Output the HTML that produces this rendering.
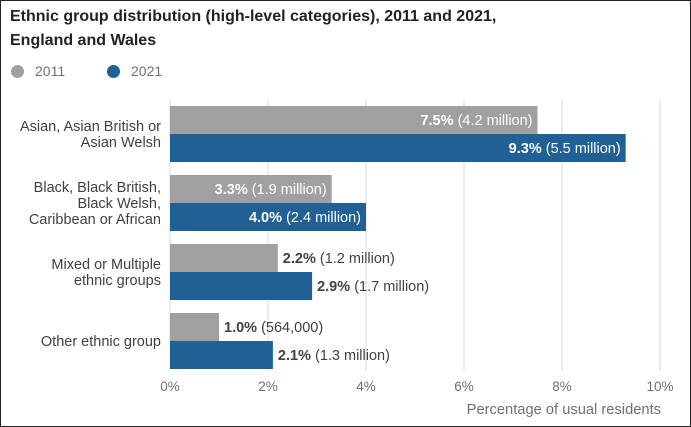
<!DOCTYPE html>
<html><head><meta charset="utf-8"><style>
html,body{margin:0;padding:0;background:#fff}
#wrap{position:relative;width:689px;height:425px;border:1px solid #222;overflow:hidden;font-family:"Liberation Sans",sans-serif}
#title{position:absolute;left:9px;top:4px;font-size:16px;font-weight:bold;color:#222;line-height:24px}
.leg{position:absolute;top:62px;font-size:14px;color:#707070;display:flex;align-items:center}
.dot{width:13px;height:13px;border-radius:50%;margin-right:11px;display:inline-block}
svg{position:absolute;left:0;top:0}
</style></head><body>
<div id="wrap">
<div id="title">Ethnic group distribution (high-level categories), 2011 and 2021,<br>England and Wales</div>
<div class="leg" style="left:10px"><span class="dot" style="background:#a0a0a0"></span>2011</div>
<div class="leg" style="left:106px"><span class="dot" style="background:#206095"></span>2021</div>
<svg id="chart" width="689" height="425"></svg>
</div>
<script>
const categories=[["Asian, Asian British or","Asian Welsh"],["Black, Black British,","Black Welsh,","Caribbean or African"],["Mixed or Multiple","ethnic groups"],["Other ethnic group"]];
const values2011=[7.5,3.3,2.2,1.0];
const values2021=[9.3,4.0,2.9,2.1];
const counts2011=["(4.2 million)","(1.9 million)","(1.2 million)","(564,000)"];
const counts2021=["(5.5 million)","(2.4 million)","(1.7 million)","(1.3 million)"];
const ticks=[0,2,4,6,8,10];
const svg=document.getElementById('chart');const NS="http://www.w3.org/2000/svg";
const x=v=>169+v*49;
const groupY=i=>105+i*69;
function mk(t,a,p){const e=document.createElementNS(NS,t);for(const k in a)e.setAttribute(k,a[k]);(p||svg).appendChild(e);return e;}
ticks.forEach(t=>{
 const l=mk('line',{x1:x(t),x2:x(t),y1:98,y2:370,stroke:'#d9d9d9','stroke-width':1});
 
 
 const tx=mk('text',{x:x(t),y:390,'text-anchor':'middle','font-size':13.5,fill:'#707070'});
 tx.textContent=t+'%';
 
 
});
const at=mk('text',{x:660,y:413,'text-anchor':'end','font-size':14.7,fill:'#707070'});
at.textContent='Percentage of usual residents';


function bar(i,v,cnt,y,col,yr){
 const r=mk('rect',{x:x(0),y:y,width:x(v)-x(0),height:28,fill:col});
 
 
 const inside=v>=3;
 const t=mk('text',{x:inside?x(v)-5:x(v)+5,y:y+19,'text-anchor':inside?'end':'start','font-size':14.5,fill:inside?'#fff':'#414042'});
 const b=mk('tspan',{'font-weight':'bold'},t);b.textContent=v.toFixed(1)+'% ';
 const s=mk('tspan',{},t);s.textContent=cnt;
 
 
}
categories.forEach((c,i)=>{
 const y0=groupY(i);
 bar(i,values2011[i],counts2011[i],y0,'#a0a0a0','2011');
 bar(i,values2021[i],counts2021[i],y0+28,'#206095','2021');
 const mid=y0+28, lh=16, top=mid-(c.length-1)*lh/2+5;
 const t=mk('text',{'text-anchor':'end','font-size':14.5,fill:'#414042'});
 c.forEach((ln,j)=>{const s=mk('tspan',{x:160,y:top+j*lh},t);s.textContent=ln;});
 
 
});
</script>
</body></html>
